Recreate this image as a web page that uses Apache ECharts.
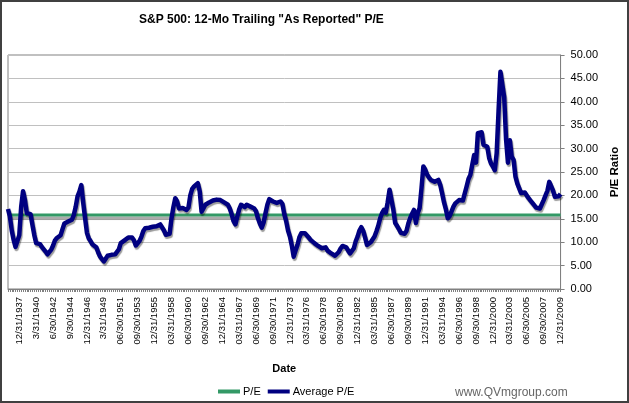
<!DOCTYPE html>
<html>
<head>
<meta charset="utf-8">
<script src="https://cdn.jsdelivr.net/npm/echarts@6/dist/echarts.min.js"></script>
<style>
html,body{margin:0;padding:0;background:#fff;}
#chart{width:629px;height:403px;}
</style>
</head>
<body>
<div id="chart"></div>
<script>
// Quarterly P/E values, first quarter = 6/30/1936, last = 12/31/2009
const avgPE = [
  17.1, 15.5, 12.5, 10.5, 9.0, 8.6, 11.5, 17.5, 20.9, 19.0,
  16.2, 16.4, 16.0, 13.7, 11.5, 9.8, 9.9, 9.6, 9.0, 8.7,
  8.0, 7.4, 7.6, 8.4, 9.3, 10.4, 10.9, 11.2, 11.5, 12.8,
  14.0, 14.2, 14.4, 14.5, 14.8, 15.8, 17.5, 19.8, 20.8, 22.2,
  18.5, 15.2, 12.0, 10.8, 10.2, 9.5, 9.1, 8.9, 7.8, 6.9,
  6.4, 5.9, 6.3, 7.1, 7.2, 7.3, 7.3, 7.4, 7.6, 8.5,
  9.8, 10.1, 10.4, 10.7, 11.0, 11.2, 11.0, 10.4, 9.3, 9.6,
  10.3, 11.2, 12.4, 13.0, 13.0, 13.1, 13.4, 13.3, 13.5, 13.4,
  13.6, 13.8, 14.1, 12.5, 11.6, 11.6, 11.8, 15.1, 17.5, 19.4,
  18.7, 17.2, 17.0, 17.3, 17.1, 16.9, 17.4, 20.0, 21.4, 21.9,
  22.2, 22.6, 20.9, 16.5, 16.8, 18.0, 18.3, 18.5, 18.7, 18.9,
  19.1, 19.1, 19.1, 19.0, 18.8, 18.5, 18.5, 18.0, 17.2, 16.0,
  14.5, 13.8, 15.5, 17.0, 18.0, 17.6, 17.5, 18.0, 17.9, 17.6,
  17.3, 17.2, 16.6, 15.1, 14.0, 13.1, 14.2, 16.2, 18.0, 19.2,
  18.9, 18.7, 18.5, 18.4, 18.4, 18.7, 18.2, 16.0, 14.5, 12.5,
  11.2, 9.3, 6.9, 8.2, 9.4, 11.0, 11.9, 12.0, 11.9, 11.5,
  11.0, 10.5, 10.3, 9.8, 9.4, 9.2, 8.9, 8.7, 8.8, 8.9,
  8.2, 7.8, 7.6, 7.3, 7.1, 6.9, 7.9, 8.7, 9.2, 9.4,
  8.9, 8.2, 7.6, 7.9, 8.7, 10.2, 11.2, 12.5, 13.2, 12.4,
  11.0, 9.4, 9.6, 10.0, 10.1, 11.2, 12.3, 13.5, 15.1, 16.2,
  16.9, 16.3, 18.5, 21.2, 20.9, 17.0, 14.1, 13.5, 12.8, 12.0,
  11.9, 11.8, 12.4, 14.0, 15.2, 16.1, 16.9, 14.1, 16.2, 17.3,
  21.5, 26.2, 25.5, 24.4, 23.8, 23.3, 23.0, 22.9, 23.1, 23.3,
  22.2, 20.4, 18.5, 17.0, 15.1, 15.6, 16.6, 17.6, 18.3, 18.7,
  19.0, 19.0, 18.9, 18.7, 21.9, 23.5, 24.4, 26.5, 28.6, 27.0,
  33.3, 33.6, 33.5, 30.8, 30.6, 30.4, 28.0, 26.8, 26.2, 25.4,
  29.0, 38.0, 46.4, 46.5, 41.0, 32.0, 27.0, 31.8, 28.3, 27.6,
  24.0, 22.5, 21.5, 20.5, 20.4, 20.6, 20.0, 19.4, 18.9, 18.4,
  18.0, 17.4, 17.2, 17.2, 17.5, 19.0, 20.0, 21.0, 22.9, 22.8,
  21.0, 19.7, 19.6, 19.8, 20.3
];
const peLevel = 15.8;

const tickLabels = [
  "12/31/1937","3/31/1940","6/30/1942","9/30/1944","12/31/1946","3/31/1949",
  "06/30/1951","09/30/1953","12/31/1955","03/31/1958","06/30/1960","09/30/1962",
  "12/31/1964","03/31/1967","06/30/1969","09/30/1971","12/31/1973","03/31/1976",
  "06/30/1978","09/30/1980","12/31/1982","03/31/1985","06/30/1987","09/30/1989",
  "12/31/1991","03/31/1994","06/30/1996","09/30/1998","12/31/2000","03/31/2003",
  "06/30/2005","09/30/2007","12/31/2009"
];

// quarter-end dates 6/30/1936 .. 12/31/2009
const qEnds = [["3","31"],["6","30"],["9","30"],["12","31"]];
const categories = [];
for (let y = 1936, q = 1; categories.length < avgPE.length; ) {
  let m = qEnds[q][0], d = qEnds[q][1];
  if (y >= 1950 && m.length === 1) m = "0" + m;
  categories.push(m + "/" + d + "/" + y);
  q++; if (q > 3) { q = 0; y++; }
}
const peData = categories.map(() => peLevel);

const chart = echarts.init(document.getElementById('chart'));
const F = 'Liberation Sans, Arial, sans-serif';
chart.setOption({
  animation: false,
  backgroundColor: '#ffffff',
  title: {
    text: 'S&P 500: 12-Mo Trailing "As Reported" P/E',
    left: 139, top: 14, padding: 0,
    textStyle: {fontFamily: F, fontSize: 12, fontWeight: 'bold', color: '#000'}
  },
  grid: {left: 8, right: 65, top: 55, bottom: 114, show: true, borderColor: '#808080', borderWidth: 1, backgroundColor: '#fff'},
  legend: {
    left: 218, top: 386, padding: 0,
    icon: 'rect', itemWidth: 22, itemHeight: 4, itemGap: 7,
    textStyle: {fontFamily: F, fontSize: 11, color: '#000', padding: [0,0,0,-2]},
    data: ['P/E', 'Average P/E']
  },
  xAxis: {
    type: 'category', data: categories, boundaryGap: false,
    name: 'Date', nameLocation: 'middle', nameGap: 74,
    nameTextStyle: {fontFamily: F, fontSize: 11, fontWeight: 'bold', color: '#000'},
    axisLine: {lineStyle: {color: '#808080', width: 1}},
    axisTick: {show: true, interval: 0, length: 3, lineStyle: {color: '#808080'}},
    axisLabel: {
      rotate: 90, margin: 8, fontFamily: F, fontSize: 9.5, color: '#000',
      interval: (idx, val) => tickLabels.indexOf(val) >= 0
    },
    splitLine: {show: false}
  },
  yAxis: {
    type: 'value', position: 'right', min: 0, max: 50, interval: 5,
    name: 'P/E Ratio', nameLocation: 'middle', nameGap: 44, nameRotate: 90,
    nameTextStyle: {fontFamily: F, fontSize: 11.5, fontWeight: 'bold', color: '#000'},
    axisLine: {show: true, lineStyle: {color: '#808080'}},
    axisTick: {show: true, length: 4, lineStyle: {color: '#808080'}},
    axisLabel: {margin: 10, fontFamily: F, fontSize: 11, color: '#000', formatter: v => v.toFixed(2)},
    splitLine: {show: true, lineStyle: {color: '#c0c0c0', width: 1}}
  },
  series: [
    {
      name: 'P/E', type: 'line', data: peData, symbol: 'none', color: '#339966',
      lineStyle: {width: 3, color: '#339966', shadowColor: 'rgba(0,0,0,0.35)', shadowOffsetY: 3, shadowOffsetX: 0, shadowBlur: 1},
      z: 2
    },
    {
      name: 'Average P/E', type: 'line', data: avgPE, symbol: 'none', color: '#000080',
      lineStyle: {width: 4.5, color: '#000080', join: 'round', shadowColor: 'rgba(0,0,0,0.4)', shadowOffsetX: 1, shadowOffsetY: 2, shadowBlur: 1},
      z: 3
    }
  ],
  graphic: [
    {type: 'rect', shape: {x: 1, y: 1, width: 627, height: 401}, style: {fill: 'none', stroke: '#404040', lineWidth: 2}, silent: true, z: 100},
    {type: 'text', left: 455, top: 387, style: {text: 'www.QVmgroup.com', fontFamily: F, fontSize: 12, fill: '#666666'}}
  ]
});
</script>
</body>
</html>
